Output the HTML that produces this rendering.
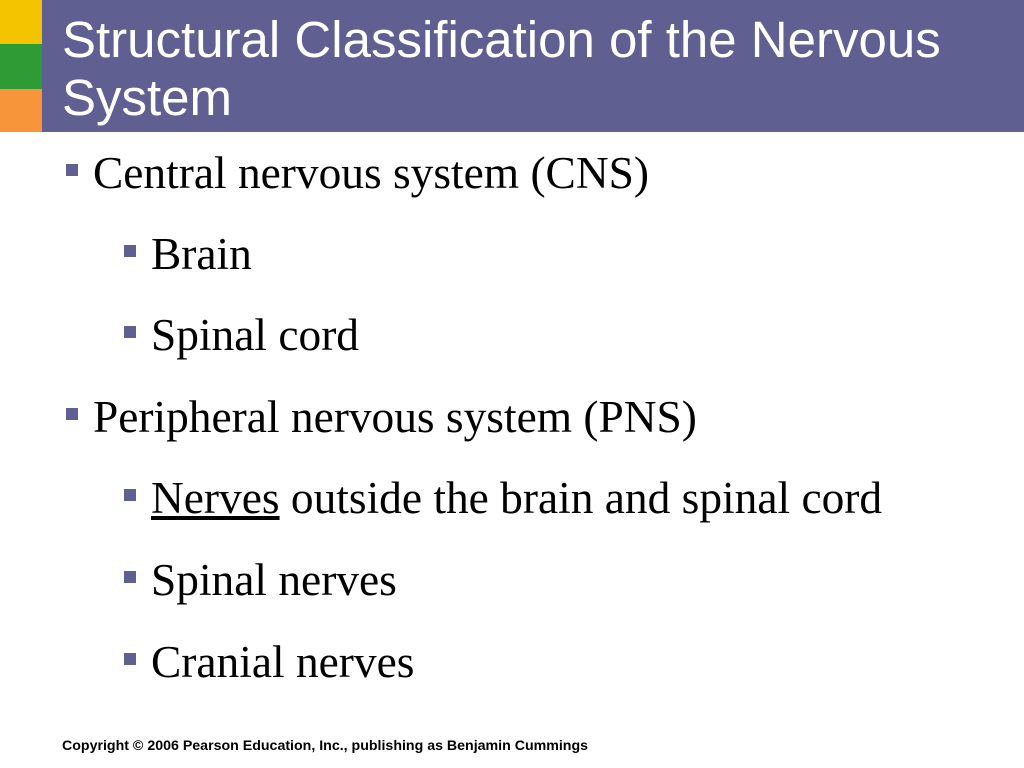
<!DOCTYPE html>
<html><head><style>
body{margin:0;width:1024px;height:768px;background:#fff;position:relative;overflow:hidden}
.b{position:absolute}
.t{position:absolute;left:62px;color:#fff;font-family:"Liberation Sans",sans-serif;font-size:51px;line-height:1;white-space:nowrap}
.i{position:absolute;font-family:"Liberation Serif",serif;font-size:45.4px;line-height:1;white-space:nowrap;color:#000}
.sq{position:absolute;width:12px;height:12px;background:#5f5f92}
</style></head><body>
<div class="b" style="left:0;top:0;width:42px;height:44px;background:#f5c400"></div>
<div class="b" style="left:0;top:44px;width:42px;height:45px;background:#2f9b35"></div>
<div class="b" style="left:0;top:89px;width:42px;height:43px;background:#f7953a"></div>
<div class="b" style="left:42px;top:0;width:982px;height:132px;background:#5f5f92"></div>
<div class="t" style="top:14px">Structural Classification of the Nervous</div>
<div class="t" style="top:72px">System</div>

<div class="sq" style="left:66px;top:164px"></div><div class="i" style="left:93px;top:151px">Central nervous system (CNS)</div>
<div class="sq" style="left:124px;top:245px"></div><div class="i" style="left:151px;top:232px">Brain</div>
<div class="sq" style="left:124px;top:326px"></div><div class="i" style="left:151px;top:313px">Spinal cord</div>
<div class="sq" style="left:66px;top:408px"></div><div class="i" style="left:93px;top:395px">Peripheral nervous system (PNS)</div>
<div class="sq" style="left:124px;top:489px"></div><div class="i" style="left:151px;top:476px"><u>Nerves</u> outside the brain and spinal cord</div>
<div class="sq" style="left:124px;top:571px"></div><div class="i" style="left:151px;top:558px">Spinal nerves</div>
<div class="sq" style="left:124px;top:653px"></div><div class="i" style="left:151px;top:640px">Cranial nerves</div>

<div class="b" style="left:62px;top:738px;font-family:'Liberation Sans',sans-serif;font-weight:bold;font-size:14.2px;color:#000;white-space:nowrap">Copyright © 2006 Pearson Education, Inc., publishing as Benjamin Cummings</div>
</body></html>
